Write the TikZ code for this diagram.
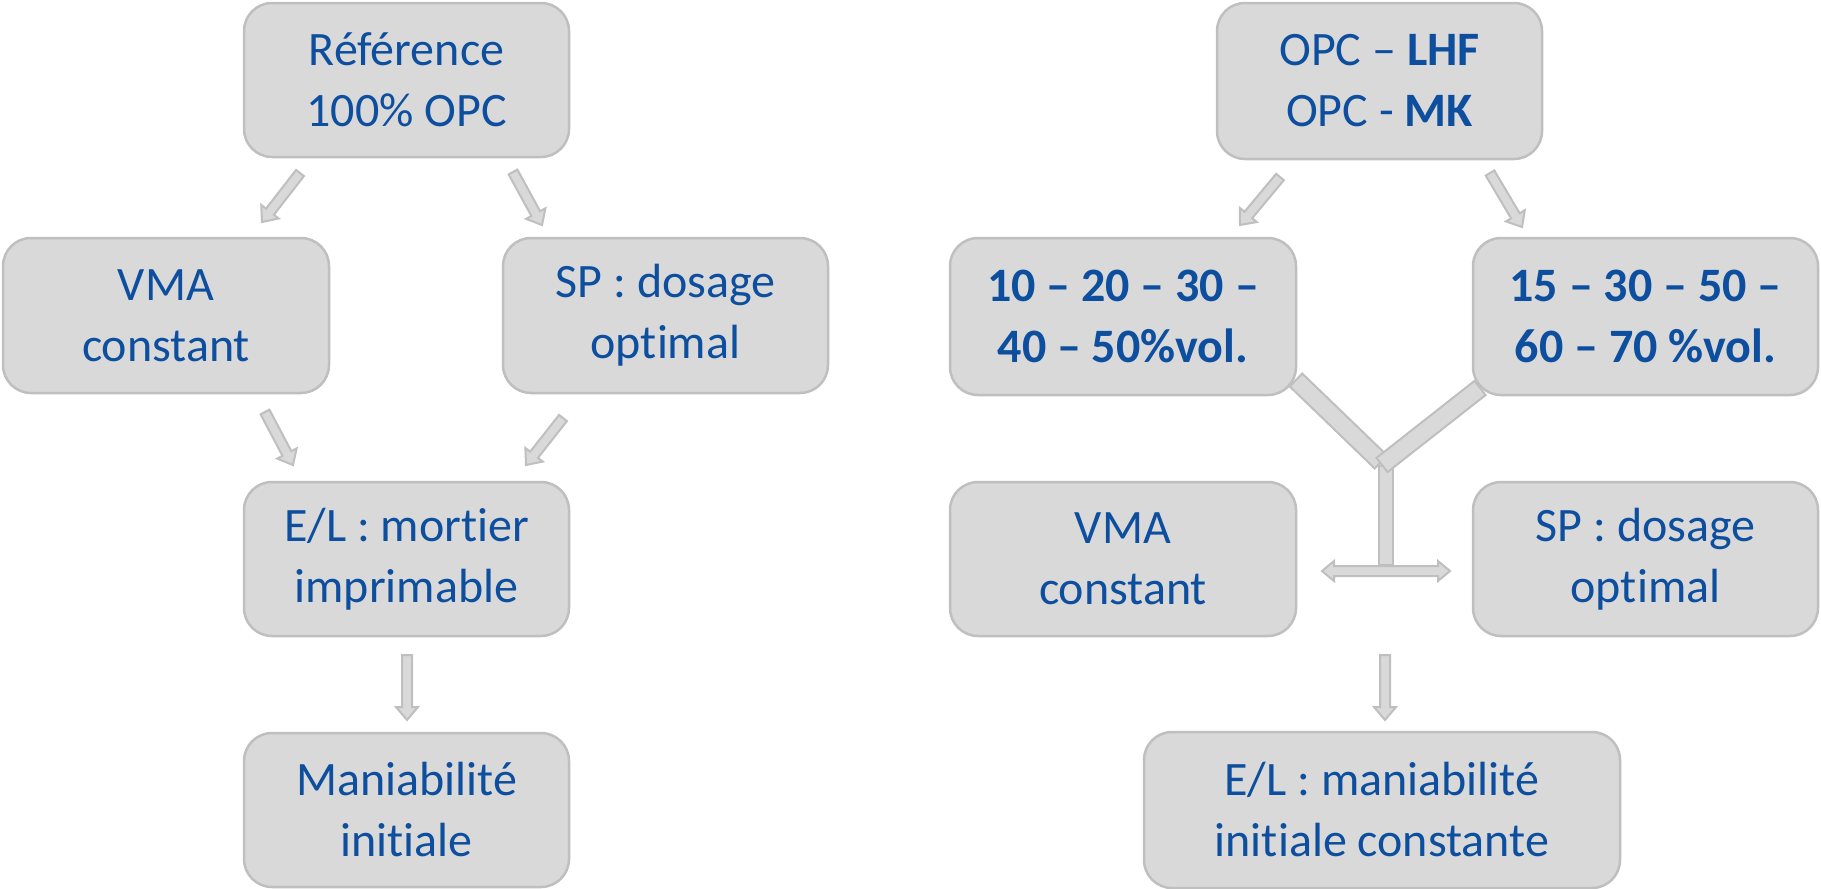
\documentclass[tikz,border=0pt]{standalone}
\usepackage{fontspec}
\setmainfont{Carlito}[Ligatures=NoCommon]
\usetikzlibrary{calc}
\definecolor{boxfill}{HTML}{D9D9D9}
\definecolor{boxline}{HTML}{BFBFBF}
\definecolor{txtblue}{HTML}{0D4F9E}
\tikzset{
  box/.style={draw=boxline, fill=boxfill, line width=2.5pt, rounded corners=28pt,
    align=center, text=txtblue, font=\fontsize{48}{61}\selectfont, inner sep=0pt},
  blk/.style={draw=boxline, fill=boxfill, line width=2pt, line join=miter}
}
\newcommand\blockarrow[2]{%
  \draw[blk] let \p1=(#1), \p2=(#2), \n1={atan2(\y2-\y1,\x2-\x1)}, \n2={veclen(\x2-\x1,\y2-\y1)} in
   ($(\p1)+(\n1+90:5pt)$) -- ($(\p1)+({\n1}:{\n2-13pt})+(\n1+90:5pt)$)
   -- ($(\p1)+({\n1}:{\n2-13pt})+(\n1+90:11pt)$) -- (\p2)
   -- ($(\p1)+({\n1}:{\n2-13pt})+(\n1-90:11pt)$) -- ($(\p1)+({\n1}:{\n2-13pt})+(\n1-90:5pt)$)
   -- ($(\p1)+(\n1-90:5pt)$) -- cycle;}
\newcommand\thickbar[3]{%
  \draw[blk] let \p1=(#1), \p2=(#2), \n1={atan2(\y2-\y1,\x2-\x1)} in
   ($(\p1)+(\n1+90:#3)$) -- ($(\p2)+(\n1+90:#3)$) -- ($(\p2)+(\n1-90:#3)$) -- ($(\p1)+(\n1-90:#3)$) -- cycle;}
\begin{document}
\begin{tikzpicture}[x=1pt,y=-1pt]
\useasboundingbox (0,0) rectangle (1821,889);
% left column
\node[box, minimum width=325pt, minimum height=154pt] (ref) at (406.5,80) {Référence\\100\% OPC};
\node[box, minimum width=326pt, minimum height=155pt] (vmaL) at (166,315.5) {VMA\\constant};
\node[box, minimum width=325pt, minimum height=155pt] (spL) at (665.5,315.5) {SP : dosage\\optimal};
\node[box, minimum width=325pt, minimum height=154pt] (elL) at (406.5,559) {E/L : mortier\\imprimable};
\node[box, minimum width=325pt, minimum height=154pt] (man) at (406.5,810) {Maniabilité\\initiale};
% right column
\node[box, minimum width=325pt, minimum height=156pt] (opc) at (1379.5,81) {OPC – \textbf{LHF}\\OPC - \textbf{MK}};
\node[box, minimum width=346pt, minimum height=157pt, font=\fontsize{48}{61}\selectfont\bfseries] (lhf) at (1123,316.5) {10 – 20 – 30 –\\40 – 50\%vol.};
\node[box, minimum width=345pt, minimum height=157pt, font=\fontsize{48}{61}\selectfont\bfseries] (mk) at (1645.5,316.5) {15 – 30 – 50 –\\60 – 70 \%vol.};
\node[box, minimum width=346pt, minimum height=154pt] (vmaR) at (1123,559) {VMA\\constant};
\node[box, minimum width=345pt, minimum height=154pt] (spR) at (1645.5,559) {SP : dosage\\optimal};
\node[box, minimum width=476pt, minimum height=156pt] (elR) at (1382,810) {E/L : maniabilité\\initiale constante};
% arrow end points
\coordinate (a1s) at (300,173); \coordinate (a1e) at (262,222);
\coordinate (a2s) at (513,172); \coordinate (a2e) at (542,225);
\coordinate (a3s) at (265,412); \coordinate (a3e) at (293,465);
\coordinate (a4s) at (563,418); \coordinate (a4e) at (526,465);
\coordinate (a5s) at (407,655); \coordinate (a5e) at (407,720);
\coordinate (b1s) at (1280,177); \coordinate (b1e) at (1240,225);
\coordinate (b2s) at (1490,173); \coordinate (b2e) at (1522,227);
\coordinate (b3s) at (1385,655); \coordinate (b3e) at (1385,720);
\blockarrow{a1s}{a1e}
\blockarrow{a2s}{a2e}
\blockarrow{a3s}{a3e}
\blockarrow{a4s}{a4e}
\blockarrow{a5s}{a5e}
\blockarrow{b1s}{b1e}
\blockarrow{b2s}{b2e}
\blockarrow{b3s}{b3e}
% Y connector
\coordinate (y1) at (1296,380); \coordinate (y2) at (1381,462);
\coordinate (y3) at (1480,388); \coordinate (y4) at (1382,465);
\coordinate (st1) at (1386,466); \coordinate (st2) at (1386,565);
\thickbar{st1}{st2}{7pt}
\thickbar{y1}{y2}{9pt}
\thickbar{y3}{y4}{9pt}
% double arrow
\draw[blk] (1322,571) -- (1334,561) -- (1334,566) -- (1438,566) -- (1438,561) -- (1450,571)
  -- (1438,581) -- (1438,576) -- (1334,576) -- (1334,581) -- cycle;
\end{tikzpicture}
\end{document}
